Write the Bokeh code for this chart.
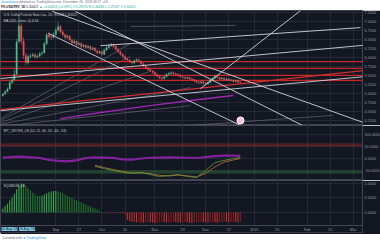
from bokeh.plotting import figure
from bokeh.models import (Range1d, FixedTicker, PrintfTickFormatter, Label, Div, ColumnDataSource,
                          BoxAnnotation, Span)
from bokeh.layouts import column
from bokeh.embed import file_html
from bokeh.resources import INLINE

# ---------------- data ----------------
first_open = 4.93
closes = [4.98, 5.05, 5.12, 5.30, 5.37, 5.53, 6.43, 6.87, 6.45, 6.05,
          5.85, 6.02, 6.04, 6.07, 6.00, 6.03, 6.10, 6.12, 6.37, 6.62,
          6.57, 6.55, 6.63, 6.75, 6.85, 6.70, 6.62, 6.55, 6.58, 6.48,
          6.40, 6.44, 6.35, 6.38, 6.30, 6.33, 6.27, 6.30, 6.22, 6.25,
          6.18, 6.12, 6.15, 6.08, 6.20, 6.27, 6.32, 6.35, 6.30, 6.22,
          6.15, 6.08, 6.02, 5.95, 5.92, 5.88, 5.84, 5.90, 5.93, 5.88,
          5.82, 5.76, 5.70, 5.66, 5.62, 5.58, 5.52, 5.47, 5.43, 5.41,
          5.46, 5.52, 5.55, 5.57, 5.54, 5.52, 5.50, 5.46, 5.44, 5.42,
          5.44, 5.40, 5.38, 5.34, 5.31, 5.29, 5.32, 5.28, 5.26, 5.30,
          5.36, 5.42, 5.47, 5.44, 5.40, 5.42, 5.38, 5.40, 5.36, 5.37,
          5.33, 5.35, 5.31, 5.30]
highs = [5.00, 5.08, 5.16, 5.34, 5.45, 5.65, 6.50, 7.24, 6.95, 6.55,
         6.12, 6.08, 6.10, 6.12, 6.11, 6.07, 6.14, 6.18, 6.42, 6.68,
         6.70, 6.65, 6.70, 6.82, 6.97, 6.90, 6.76, 6.66, 6.64, 6.61,
         6.52, 6.49, 6.47, 6.43, 6.41, 6.37, 6.36, 6.34, 6.33, 6.29,
         6.28, 6.21, 6.19, 6.18, 6.23, 6.31, 6.36, 6.40, 6.38, 6.33,
         6.25, 6.18, 6.11, 6.05, 5.99, 5.96, 5.91, 5.94, 5.97, 5.96,
         5.90, 5.85, 5.79, 5.73, 5.69, 5.65, 5.60, 5.55, 5.50, 5.46,
         5.49, 5.55, 5.59, 5.61, 5.60, 5.57, 5.55, 5.52, 5.49, 5.47,
         5.47, 5.46, 5.43, 5.40, 5.37, 5.34, 5.35, 5.34, 5.31, 5.33,
         5.39, 5.45, 5.51, 5.50, 5.46, 5.45, 5.44, 5.43, 5.42, 5.40,
         5.39, 5.38, 5.37, 5.33]
lows = [4.91, 4.96, 5.03, 5.10, 5.26, 5.35, 5.50, 6.40, 6.35, 5.95,
        5.77, 5.80, 5.97, 6.00, 5.96, 5.97, 6.01, 6.06, 6.10, 6.34,
        6.52, 6.48, 6.52, 6.60, 6.72, 6.65, 6.57, 6.50, 6.51, 6.44,
        6.36, 6.37, 6.31, 6.32, 6.26, 6.27, 6.23, 6.24, 6.18, 6.19,
        6.14, 6.08, 6.09, 6.04, 6.06, 6.17, 6.24, 6.29, 6.26, 6.18,
        6.11, 6.04, 5.98, 5.91, 5.88, 5.84, 5.80, 5.81, 5.87, 5.85,
        5.78, 5.72, 5.67, 5.62, 5.59, 5.54, 5.48, 5.44, 5.39, 5.37,
        5.39, 5.44, 5.50, 5.52, 5.51, 5.49, 5.47, 5.43, 5.41, 5.39,
        5.40, 5.37, 5.35, 5.31, 5.28, 5.26, 5.27, 5.25, 5.22, 5.24,
        5.28, 5.34, 5.40, 5.41, 5.37, 5.38, 5.35, 5.36, 5.33, 5.34,
        5.30, 5.31, 5.28, 5.28]

# x-axis ticks (bar index of trading day) and their labels
tick_idx = [23, 33, 43, 53, 66, 78, 88, 98, 109, 119, 132, 142, 152]
tick_labels = ["Sep", "17", "Oct", "15", "Nov", "19", "Dec", "17", "2019", "15", "Feb", "15", "Mar"]

price_ticks = [4.25, 4.50, 4.75, 5.00, 5.25, 5.50, 5.75, 6.00, 6.25, 6.50, 6.75, 7.00, 7.25]

# drawn trend lines: (start idx, start price, end idx, end price)
white_lines = [
    (19.8, 6.66, 103.1, 4.11),
    (21.5, 7.27, 156.4, 4.19),
    (31.5, 7.27, 130.0, 4.11),
    (-1.0, 5.41, 156.4, 6.33),
    (-1.0, 4.52, 156.4, 5.46),
    (85.7, 5.13, 129.1, 7.29),
    (42.4, 6.32, 155.1, 6.82),
]
gray_lines = [
    (-1.0, 4.30, 55.4, 6.38),
    (-1.0, 4.25, 55.4, 6.02),
    (-1.0, 4.19, 64.0, 5.61),
    (-1.0, 4.14, 81.4, 5.16),
    (3.0, 4.11, 81.4, 4.66),
    (81.4, 4.11, 143.4, 4.39),
    (55.4, 6.85, 100.9, 6.88),
]
red_levels = [5.88, 5.69, 5.50, 5.36]
red_sloped = [(-1.0, 4.55, 156.4, 5.63)]
price_label_values = [5.8800, 5.6900, 5.5000, 5.3600, 5.2200]

ma_idx = [25.0, 42.4, 64.0, 81.4, 100.0]
ma_vals = [4.30, 4.47, 4.66, 4.80, 4.94]

marker_idx = [103.1]
marker_price = [4.25]

# WaveTrend pane
wt_ticks = [100, 50, 0, -50]
wt_band_idx = [0, 4, 8, 12, 16, 20, 24, 28, 32, 36, 40, 44, 48, 52, 56, 60, 64, 68, 72, 76, 80, 84, 88, 92, 96, 100, 103]
wt_band = [4, 6, 8, 5, 2, -6, -10, -12, -8, 2, 5, 4, 2, -4, -5, 0, 3, 4, 5, 4, 3, 2, 6, 10, 12, 12, 11]
wt_idx = [40, 44, 48, 52, 56, 60, 64, 68, 72, 76, 80, 84, 88, 92, 96, 100, 103]
wt1 = [-33, -42, -50, -58, -62, -58, -67, -75, -71, -67, -75, -79, -50, -17, -8, 0, 4]
wt2 = [-28, -38, -46, -54, -60, -60, -63, -70, -73, -69, -72, -77, -62, -35, -15, -6, 0]
wt_levels_ob = [60, 53]
wt_levels_os = [-53, -60]

# Squeeze momentum pane
sqz_ticks = [1.0, 0.5, 0.0]
sqz = [0.14, 0.22, 0.30, 0.41, 0.52, 0.65, 0.80, 0.95, 1.00, 0.98,
       0.92, 0.84, 0.76, 0.68, 0.62, 0.58, 0.57, 0.58, 0.62, 0.66,
       0.70, 0.72, 0.74, 0.74, 0.72, 0.70, 0.66, 0.62, 0.58, 0.54,
       0.50, 0.46, 0.42, 0.38, 0.35, 0.31, 0.28, 0.24, 0.21, 0.17,
       0.14, 0.10,
       0.05, 0.02, 0.01, -0.01, -0.01, -0.02, -0.02, -0.02, -0.03, -0.03, -0.03, -0.04,
       -0.26, -0.30, -0.32, -0.33, -0.34, -0.33, -0.34, -0.35, -0.34, -0.33,
       -0.34, -0.35, -0.36, -0.35, -0.34, -0.33, -0.34, -0.35, -0.34, -0.33,
       -0.32, -0.33, -0.34, -0.35, -0.34, -0.33, -0.34, -0.35, -0.36, -0.35,
       -0.34, -0.33, -0.32, -0.33, -0.34, -0.35, -0.34, -0.33, -0.34, -0.35,
       -0.34, -0.33, -0.32, -0.33, -0.34, -0.33, -0.32, -0.33, -0.34, -0.33]
sqz_low = -0.448          # lower edge of the momentum area (the time strip lies below it)

range_label_idx = [-0.6, 7.0]
range_labels = ["01 Aug '18", "28 Aug '18"]

# ---------------- style ----------------
BG = "#131722"
GRID = "#252936"
OUT = "#434651"
AXT = "#9598a1"
FONT = "Liberation Sans"
FW = 362
XR = (-1.0, 156.0)


def pane(h, y0, y1, yticks, xaxis=False):
    p = figure(frame_width=FW, frame_height=h, x_range=Range1d(*XR), y_range=Range1d(y0, y1),
               toolbar_location=None, output_backend="svg",
               x_axis_location="below" if xaxis else None, y_axis_location="right",
               min_border_left=0, min_border_right=18, min_border_top=0, min_border_bottom=0,
               background_fill_color=BG, border_fill_color=BG, outline_line_color=OUT)
    ax = p.yaxis[0]
    ax.ticker = FixedTicker(ticks=yticks)
    ax.formatter = PrintfTickFormatter(format="%.4f")
    ax.axis_line_color = None
    ax.major_tick_line_color = None
    ax.minor_tick_line_color = None
    ax.major_tick_out = 0
    ax.major_tick_in = 0
    ax.major_label_text_font_size = "3.8px"
    ax.major_label_text_color = AXT
    ax.major_label_text_font = FONT
    ax.major_label_standoff = 2
    p.ygrid.ticker = FixedTicker(ticks=yticks)
    p.ygrid.grid_line_color = GRID
    p.xgrid.ticker = FixedTicker(ticks=tick_idx)
    p.xgrid.grid_line_color = GRID
    if xaxis:
        xa = p.xaxis[0]
        xa.ticker = FixedTicker(ticks=tick_idx)
        xa.major_label_overrides = {i: t for i, t in zip(tick_idx, tick_labels)}
        xa.axis_line_color = None
        xa.major_tick_line_color = None
        xa.minor_tick_line_color = None
        xa.major_tick_out = 0
        xa.major_tick_in = 0
        xa.major_label_text_font_size = "3.8px"
        xa.major_label_text_color = AXT
        xa.major_label_text_font = FONT
        xa.major_label_standoff = -5   # labels sit inside the time strip at the foot of the pane
    return p


def seg(p, lines, color, width, alpha=1.0):
    p.segment(x0=[l[0] for l in lines], y0=[l[1] for l in lines],
              x1=[l[2] for l in lines], y1=[l[3] for l in lines],
              line_color=color, line_width=width, line_alpha=alpha)


# ---------------- main pane ----------------
main = pane(115, 4.109, 7.294, price_ticks)

seg(main, gray_lines, "#787b86", 0.7, 0.8)
main.line(ma_idx, ma_vals, line_color="#9c27b0", line_width=1.4)
seg(main, [(XR[0], v, 157, v) for v in red_levels], "#c62828", 1.3)
seg(main, red_sloped, "#d32f2f", 1.3)

opens = [first_open] + closes[:-1]
idx = list(range(len(closes)))
up = [c >= o for o, c in zip(opens, closes)]
cols = ["#53b987" if u else "#eb4d5c" for u in up]
src = ColumnDataSource(dict(x=idx, o=opens, c=closes, h=highs, l=lows, col=cols,
                            top=[max(o, c) for o, c in zip(opens, closes)],
                            bot=[min(o, c) for o, c in zip(opens, closes)]))
main.segment("x", "h", "x", "l", source=src, line_color="col", line_width=0.6)
main.vbar(x="x", top="top", bottom="bot", width=0.62, source=src, fill_color="col", line_color="col", line_width=0.3)

seg(main, white_lines, "#d1d4dc", 1.0, 0.9)

main.scatter(marker_idx, marker_price, size=7, fill_color="#f6c1d0", line_color="#ffffff", line_width=1)

for i, v in enumerate(price_label_values):
    col = "#e53935" if i < 3 else "#f28b8b"
    main.add_layout(Label(x=FW + 1, x_units="screen", y=v, text="%.4f" % v, text_font_size="3.8px",
                          text_font=FONT, text_color="#ffffff", text_baseline="middle",
                          background_fill_color=col, text_font_style="bold"))

main.add_layout(Label(x=3, y=109, x_units="screen", y_units="screen",
                      text="U.S. Dollar/Turkish New Lira, 1D, FXCM  5.30022",
                      text_font_size="3.4px", text_font=FONT, text_color="#c9cbd2"))
main.add_layout(Label(x=3, y=103, x_units="screen", y_units="screen",
                      text="MA (200, close, 0)  4.94",
                      text_font_size="3.4px", text_font=FONT, text_color="#c9cbd2"))

# ---------------- WaveTrend pane ----------------
wt = pane(55, -91.7, 137.5, wt_ticks)
seg(wt, [(XR[0], v, 157, v) for v in wt_levels_ob], "#8e2a2a", 0.8)
seg(wt, [(XR[0], v, 157, v) for v in wt_levels_os], "#2e6b3a", 0.8)
wt.line(wt_band_idx, wt_band, line_color="#8e24aa", line_width=2.2, line_alpha=0.9)
wt.line(wt_idx, wt2, line_color="#c0703a", line_width=0.8)
wt.line(wt_idx, wt1, line_color="#5f9e36", line_width=0.8)
wt.add_layout(Label(x=3, y=48, x_units="screen", y_units="screen",
                    text="WT_CROSS_LB (10, 21, 60, 53, -60, -53)",
                    text_font_size="3.4px", text_font=FONT, text_color="#c9cbd2"))

# ---------------- Squeeze pane (with time strip at its foot) ----------------
sq = pane(52, sqz_low - 7 / 29.0, 1.103, sqz_ticks, xaxis=True)
sq_cols = []
for i, v in enumerate(sqz):
    prev = sqz[i - 1] if i > 0 else 0.0
    if v >= 0:
        sq_cols.append("#36b24a" if v >= prev else "#1f7d2c")
    else:
        sq_cols.append("#d32f2f" if v <= prev else "#8e1c1c")
sq.vbar(x=list(range(len(sqz))), top=sqz, bottom=0, width=0.45, fill_color=sq_cols, line_color=None)
sq.add_layout(BoxAnnotation(top=sqz_low, fill_color=BG, fill_alpha=1.0, line_color=None, level="glyph"))
sq.add_layout(Span(location=sqz_low, dimension="width", line_color=OUT, line_width=1))
sq.add_layout(Label(x=3, y=45, x_units="screen", y_units="screen", text="SQZMOM_LB",
                    text_font_size="3.4px", text_font=FONT, text_color="#c9cbd2"))
for xs, t in zip(range_label_idx, range_labels):
    sq.add_layout(Label(x=xs, y=sqz_low - 1.5 / 29.0, text=t, text_baseline="top",
                        text_font_size="3.4px", text_font=FONT, text_color="#0c3446",
                        background_fill_color="#7cc6de", level="overlay"))

# ---------------- header / footer ----------------
base_style = {"font-family": "'Liberation Sans', Arial, sans-serif", "font-size": "3.3px",
              "line-height": "4.6px", "background": "#ffffff", "overflow": "hidden",
              "padding-left": "1px", "color": "#6a6d78", "box-sizing": "border-box"}
header = Div(text='<span style="color:#2196f3">Gutenfaro</span> published on TradingView.com, December 26, 2018 08:17 +03<br>'
                  '<b style="color:#131722">FX:USDTRY, 1D</b> <span style="color:#131722">5.30022</span> '
                  '<span style="color:#26a69a">&#9650; +0.00452 (+0.09%) O:5.29570 H:5.30466 L:5.29557 C:5.30022</span>',
             width=380, height=10, margin=(0, 0, 0, 0), styles=base_style)
footer = Div(text='Created with <span style="color:#2196f3">&#9679; TradingView</span>',
             width=380, height=8, margin=(0, 0, 0, 0),
             styles=dict(base_style, **{"line-height": "8px", "padding-left": "2px", "font-size": "3.6px"}))

layout = column(header, main, wt, sq, footer, spacing=0)
open("out.html", "w").write(file_html(layout, INLINE))
